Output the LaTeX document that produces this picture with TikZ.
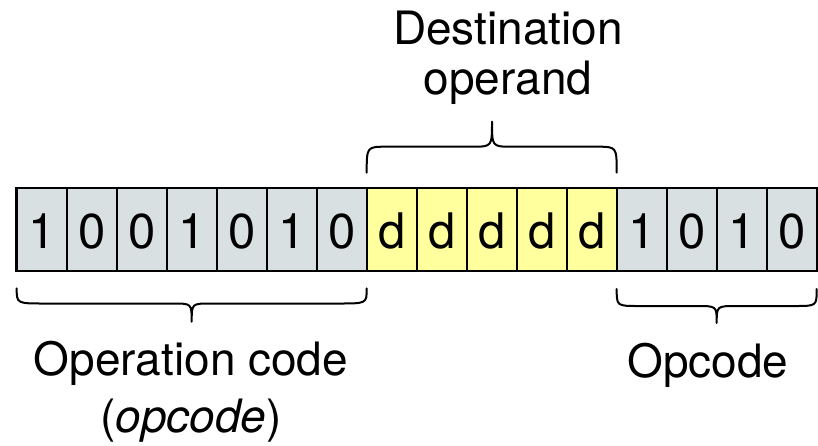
\documentclass[tikz,border=0pt]{standalone}
\usepackage{fontspec}
\setmainfont{TeX Gyre Heros}
\definecolor{cellgray}{HTML}{D9E0E1}
\definecolor{cellyellow}{HTML}{FFFF9E}

% curly brace: #1 left x, #2 right x, #3 tip x, #4 end y, #5 flat y, #6 tip y,
% #7 corner width, #8 tip half-width
\newcommand{\curlybrace}[8]{%
  \draw[bracestyle] (#1,#4) .. controls (#1,#5) .. ({#1+#7},#5)
    -- ({#3-#8},#5) .. controls (#3,#5) .. (#3,#6)
    .. controls (#3,#5) .. ({#3+#8},#5)
    -- ({#2-#7},#5) .. controls (#2,#5) .. (#2,#4);}

\begin{document}
\begin{tikzpicture}[x=1pt,y=-1pt,
  bitcell/.style={minimum width=50pt, minimum height=82.5pt, inner sep=0pt,
    text height=37pt, text depth=0pt, font=\fontsize{49}{52}\selectfont},
  bracestyle/.style={draw=black, line width=2pt, line cap=round, line join=round},
  label/.style={inner sep=0pt, align=center, font=\fontsize{46}{50}\selectfont}]
\useasboundingbox (0,0) rectangle (818,445);

% the sixteen bits of the instruction word
\foreach \b [count=\i from 0] in {1,0,0,1,0,1,0,d,d,d,d,d,1,0,1,0}{
  \ifnum\i<7 \def\cellfill{cellgray}\else
    \ifnum\i<12 \def\cellfill{cellyellow}\else\def\cellfill{cellgray}\fi\fi
  \node[bitcell, fill=\cellfill] (c\i) at ({41.7+50*\i},229.7) {\b};
}
% cell borders on top of the fills
\foreach \i in {0,...,15}{
  \draw[line width=1.8pt] (c\i.north west) rectangle (c\i.south east);
}
\draw[line width=2.2pt] (c0.north west) rectangle (c15.south east);

% braces grouping the fields
\curlybrace{366.7}{616.7}{492}{172.7}{146.7}{121.7}{20}{20}
\curlybrace{16.7}{366.7}{191.7}{288.3}{303.5}{321.7}{28}{19}
\curlybrace{616.7}{816.7}{716.7}{289}{306}{323}{22}{20}

% field labels
\node[label, anchor=north] (dest) at (508,10.5) {Destination\\operand};
\node[label, anchor=north] (opc) at (191,340.5) {Operation code\\[7pt](\textit{opcode})};
\node[label, anchor=base] (opshort) at (708,377) {Opcode};
\end{tikzpicture}
\end{document}
